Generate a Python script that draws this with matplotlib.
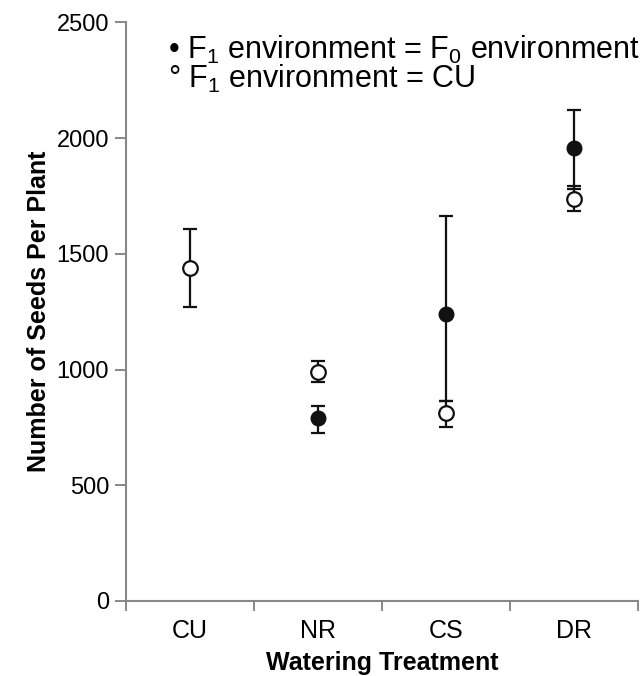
import matplotlib
matplotlib.use("Agg")
import matplotlib.pyplot as plt
import numpy as np

plt.rcParams['font.family'] = ['Liberation Sans', 'DejaVu Sans']
plt.rcParams['mathtext.fontset'] = 'custom'
plt.rcParams['mathtext.rm'] = 'Liberation Sans'
plt.rcParams['mathtext.it'] = 'Liberation Sans:italic'
plt.rcParams['mathtext.bf'] = 'Liberation Sans:bold'

categories = ['CU', 'NR', 'CS', 'DR']

# F1 environment = F0 environment (filled); no value for CU
same_mean = [np.nan, 789, 1239, 1955]
same_err_low = [np.nan, 65, 374, 176]
same_err_high = [np.nan, 53, 423, 165]

# F1 environment = CU (open)
cu_mean = [1437, 990, 812, 1735]
cu_err_low = [169, 46, 61, 50]
cu_err_high = [168, 48, 53, 58]

yticks = [0, 500, 1000, 1500, 2000, 2500]

fig = plt.figure(figsize=(6.42, 6.76), dpi=100)
ax = fig.add_axes([0.196, 0.111, 0.798, 0.856])

x = np.arange(len(categories))
ink = '#111111'

ax.errorbar(x, same_mean, yerr=[same_err_low, same_err_high], fmt='o',
            color=ink, ecolor=ink, elinewidth=1.6, capsize=5, capthick=1.6,
            markersize=10.5, markerfacecolor=ink, markeredgecolor=ink, zorder=3)
ax.errorbar(x, cu_mean, yerr=[cu_err_low, cu_err_high], fmt='o',
            color=ink, ecolor=ink, elinewidth=1.6, capsize=5, capthick=1.6,
            markersize=10.5, markerfacecolor='white', markeredgecolor=ink,
            markeredgewidth=1.6, zorder=4)

ax.set_xlim(-0.5, 3.5)
ax.set_ylim(0, 2500)
ax.set_yticks(yticks)
ax.set_yticklabels([str(v) for v in yticks])
ax.set_xticks(x)
ax.set_xticklabels(categories)
ax.set_xticks(np.arange(-0.5, 4.0, 1.0), minor=True)
ax.tick_params(axis='x', which='major', length=0, pad=13, labelsize=18)
ax.tick_params(axis='x', which='minor', length=7, width=1.4, color='#888888', direction='out')
ax.tick_params(axis='y', length=8, width=1.4, color='#888888', direction='out', labelsize=17, pad=4)

for s in ['top', 'right']:
    ax.spines[s].set_visible(False)
for s in ['left', 'bottom']:
    ax.spines[s].set_color('#888888')
    ax.spines[s].set_linewidth(1.5)

ax.set_xlabel('Watering Treatment', fontsize=18, fontweight='bold', labelpad=6)
ax.set_ylabel('Number of Seeds Per Plant', fontsize=18, fontweight='bold', labelpad=4)

fig.text(0.262, 1 - 50/676, '\u2022 F$\\mathregular{_1}$ environment = F$\\mathregular{_0}$ environment',
         fontsize=22, va='center', ha='left', color='black')
fig.text(0.262, 1 - 79/676, '\u00b0 F$\\mathregular{_1}$ environment = CU',
         fontsize=22, va='center', ha='left', color='black')

fig.savefig('out.png', dpi=100)
